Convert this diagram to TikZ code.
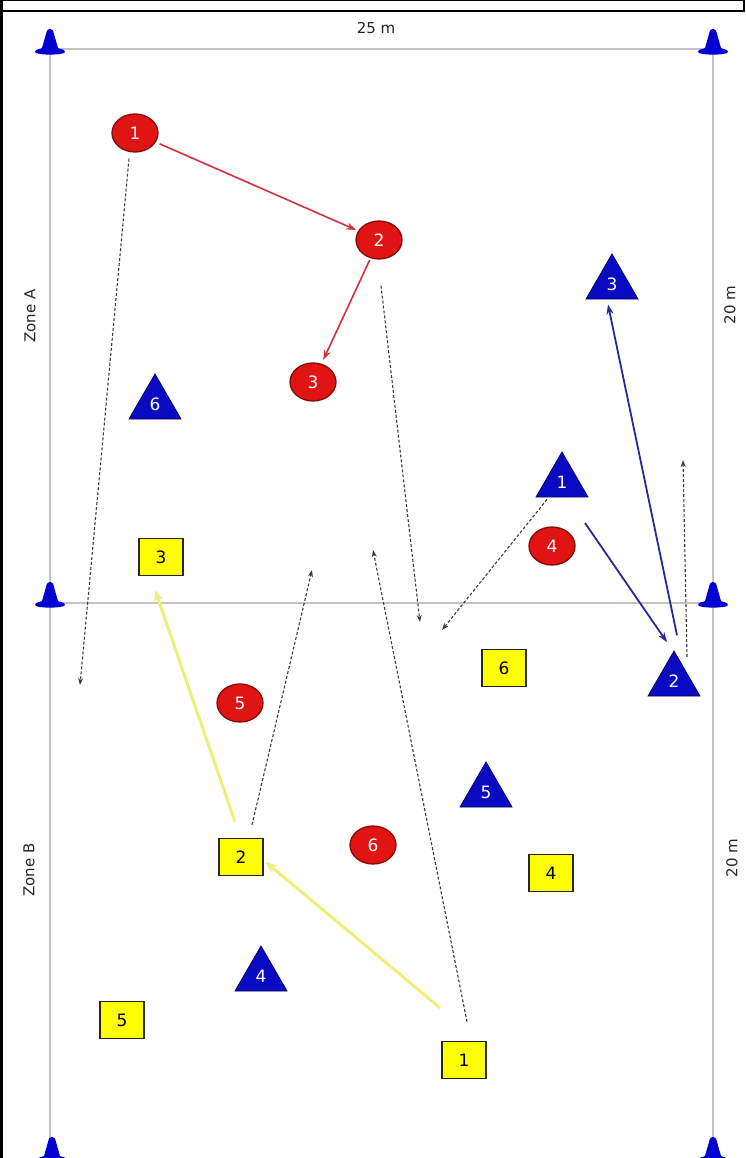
\documentclass[tikz,border=0pt]{standalone}
\usepackage{fontspec}
\setmainfont{DejaVu Sans}
\usetikzlibrary{shapes.geometric,arrows.meta,calc}
\definecolor{redp}{RGB}{225,20,20}
\definecolor{redb}{RGB}{130,10,10}
\definecolor{bluep}{RGB}{10,10,195}
\definecolor{blueb}{RGB}{0,0,100}
\definecolor{yelp}{RGB}{255,255,0}
\definecolor{fieldgray}{RGB}{195,195,195}
\definecolor{redarrow}{RGB}{210,50,60}
\definecolor{bluearrow}{RGB}{40,40,150}
\definecolor{yelarrow}{RGB}{238,238,120}
\definecolor{conecol}{RGB}{0,0,210}
\definecolor{mvcol}{RGB}{60,60,60}
\begin{document}
\begin{tikzpicture}[x=1pt,y=-1pt,
  redpl/.style={ellipse,draw=redb,line width=1.3pt,fill=redp,minimum width=46pt,minimum height=38pt,inner sep=0pt,text=white,font=\fontsize{17}{17}\selectfont},
  bluepl/.style={regular polygon,regular polygon sides=3,draw=blueb,line width=0.8pt,fill=bluep,minimum size=60pt,inner sep=0pt,text=white,font=\fontsize{17}{17}\selectfont},
  yelpl/.style={rectangle,draw=black!85,line width=1.4pt,fill=yelp,minimum width=44pt,minimum height=37pt,inner sep=0pt,font=\fontsize{17}{17}\selectfont},
  lbl/.style={inner sep=1pt,font=\fontsize{15}{15}\selectfont,text=black!85},
  mv/.style={mvcol,line width=1.1pt,dash pattern=on 3pt off 2pt,-{Stealth[length=7pt,width=5pt]}},
  redarr/.style={redarrow,line width=1.6pt,-{Stealth[length=10pt,width=7pt]}},
  bluearr/.style={bluearrow,line width=1.8pt,-{Stealth[length=10pt,width=7pt]}},
  yelarr/.style={yelarrow,line width=3pt,-{Stealth[length=11pt,width=9pt]}},
  fieldcone/.pic={
    \fill[conecol] (-15,0) .. controls (-15,-3) and (-9,-3) .. (-8,-4) -- (-4,-18)
      .. controls (-3,-25) and (3,-25) .. (4,-18) -- (8,-4)
      .. controls (9,-3) and (15,-3) .. (15,0)
      .. controls (15,3.5) and (-15,3.5) .. (-15,0) -- cycle;
  }
]
\useasboundingbox (0,0) rectangle (745,1158);
\clip (0,0) rectangle (745,1158);
\fill[white] (0,0) rectangle (745,1158);

% outer frame
\draw[black,line width=3pt] (1.5,0) -- (1.5,1158);
\draw[black,line width=1.5pt] (0,0.75) -- (745,0.75);
\draw[black,line width=2pt] (0,11) -- (745,11);
\draw[black,line width=1.5pt] (744,0) -- (744,11);

% field
\draw[fieldgray,line width=2pt] (50,49) rectangle (713,1162);
\draw[fieldgray,line width=2pt] (50,603) -- (713,603);

% cones
\pic at (50,52) {fieldcone};
\pic at (713,52) {fieldcone};
\pic at (50,605) {fieldcone};
\pic at (713,605) {fieldcone};
\pic at (52,1160) {fieldcone};
\pic at (713,1160) {fieldcone};

% labels
\node[lbl,fill=white] (top) at (376,28) {25 m};
\node[lbl,rotate=90] (za) at (30,316) {Zone A};
\node[lbl,rotate=90] (zb) at (29,870) {Zone B};
\node[lbl,rotate=90] (m1) at (730,305) {20 m};
\node[lbl,rotate=90] (m2) at (732,858) {20 m};

% red players
\node[redpl] (r1) at (135,133) {1};
\node[redpl] (r2) at (379,240) {2};
\node[redpl] (r3) at (313,382) {3};
\node[redpl] (r4) at (552,546) {4};
\node[redpl] (r5) at (240,703) {5};
\node[redpl] (r6) at (373,845) {6};

% blue players
\node[bluepl] (b3) at (612,284) {3};
\node[bluepl] (b6) at (155,404) {6};
\node[bluepl] (b1) at (562,482) {1};
\node[bluepl] (b2) at (674,681) {2};
\node[bluepl] (b5) at (486,792) {5};
\node[bluepl] (b4) at (261,976) {4};

% yellow players
\node[yelpl] (y3) at (161,557) {3};
\node[yelpl] (y6) at (504,668) {6};
\node[yelpl] (y2) at (241,857) {2};
\node[yelpl] (y4) at (551,873) {4};
\node[yelpl] (y5) at (122,1020) {5};
\node[yelpl] (y1) at (464,1060) {1};

% free ends of runs
\coordinate (ea) at (80,685);
\coordinate (eb) at (420,622);
\coordinate (ec) at (312,570);
\coordinate (ed) at (373,550);
\coordinate (ee) at (442,630);
\coordinate (ef) at (683,460);

% runs (dashed)
\draw[mv] ([shift={(-6,6)}]r1.south) -- (ea);
\draw[mv] ([shift={(2,26)}]r2.south) -- (eb);
\draw[mv] ([shift={(11,-13)}]y2.north) -- (ec);
\draw[mv] ([shift={(3,-19)}]y1.north) -- (ed);
\draw[mv] ([shift={(-15,2)}]b1.south) -- (ee);
\draw[mv] ([shift={(13,-24)}]b2.center) -- (ef);

% passes
\draw[redarr,shorten <=4pt,shorten >=2pt] (r1) -- (r2);
\draw[redarr,shorten <=2pt,shorten >=4pt] (r2) -- (r3);
\draw[bluearr] ([shift={(23,41)}]b1.center) -- ([shift={(-7,-8)}]b2.corner 1);
\draw[bluearr] ([shift={(3,-15)}]b2.corner 1) -- ([shift={(-4,5)}]b3.south);
\draw[yelarr] ([shift={(-6,-16)}]y2.north) -- ([shift={(-6,14)}]y3.south);
\draw[yelarr] ([shift={(-24,-33)}]y1.north) -- ([shift={(2,5)}]y2.east);
\end{tikzpicture}
\end{document}
